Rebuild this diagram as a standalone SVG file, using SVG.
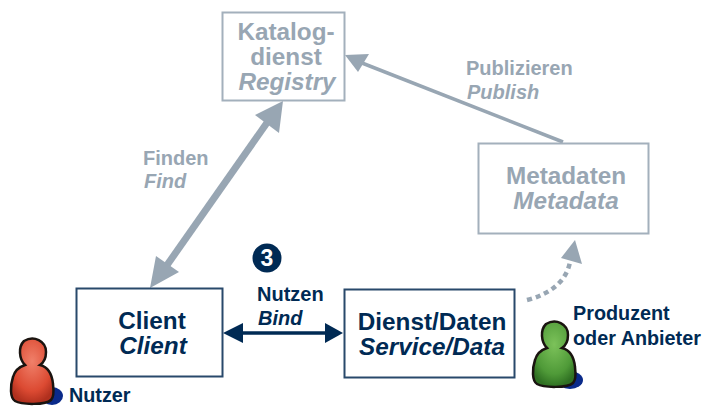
<svg xmlns="http://www.w3.org/2000/svg" width="709" height="406" viewBox="0 0 709 406">
<style>
text{font-family:"Liberation Sans",Arial,sans-serif;font-weight:700}
.i{font-style:italic}
.g{fill:#98a6b3}.d{fill:#002a54}
.gb{fill:#fff;stroke:#a3b0bc;stroke-width:2}
.db{fill:#fff;stroke:#29496b;stroke-width:2}
.t{font-size:24.3px;text-anchor:middle}
.s{font-size:20px}
.p{font-size:19.800px}
</style>
<defs>
<radialGradient id="red" cx="50%" cy="35%" r="65%"><stop offset="0" stop-color="#f0806a"/><stop offset="0.7" stop-color="#dc4a32"/><stop offset="1" stop-color="#b0301e"/></radialGradient>
<radialGradient id="green" cx="50%" cy="35%" r="65%"><stop offset="0" stop-color="#7cc25a"/><stop offset="0.7" stop-color="#4f9a38"/><stop offset="1" stop-color="#2f7022"/></radialGradient>
<symbol id="person" viewBox="0 0 54 68" overflow="visible">
<path d="M14 3C24-3 36 3 36 14C36 20 33 25 30 27C38 29 42 36 43 46C44 54 43 60 41 62C36 67 12 67 5 63C0 60 0 48 3 39C5 32 9 29 15 27C9 21 8 9 14 3Z" stroke="#1a1410" stroke-width="2.5"/>
</symbol>
</defs>
<g id="connectors">
<path d="M165 268L271 117" fill="none" stroke="#98a6b3" stroke-width="7"/>
<path d="M150 288L156 256L179 272Z" class="g"/>
<path d="M283 101L279 133L255 115Z" class="g"/>
<path d="M563 142L362 63" fill="none" stroke="#98a6b3" stroke-width="3.5"/>
<path d="M345 55L369 54L358 72Z" class="g"/>
<path d="M240 333H327" fill="none" stroke="#002a54" stroke-width="3.5"/>
<path d="M223 333L243 323V343Z" class="d"/>
<path d="M343 333L325 323V343Z" class="d"/>
<path d="M527 300C550 294 566 282 570 262" fill="none" stroke="#98a6b3" stroke-width="4.5" stroke-dasharray="5 4"/>
<path d="M575 240L582 264L561 258Z" class="g"/>
</g>
<g id="registry">
<rect x="222.500" y="12.500" width="122" height="88" class="gb"/>
<text class="t g" x="286" y="40">Katalog-</text>
<text class="t g" x="286" y="65">dienst</text>
<text class="t g i" x="287" y="90">Registry</text>
</g>
<g id="metadata">
<rect x="478.500" y="143.500" width="170" height="90" class="gb"/>
<text class="t g" x="566" y="184">Metadaten</text>
<text class="t g i" x="566" y="209">Metadata</text>
</g>
<g id="client">
<rect x="76.500" y="288.500" width="146" height="88" class="db"/>
<text class="t d" x="152" y="329">Client</text>
<text class="t d i" x="153" y="354">Client</text>
</g>
<g id="service">
<rect x="344.500" y="289.500" width="170" height="88" class="db"/>
<text class="t d" x="432" y="330">Dienst/Daten</text>
<text class="t d i" x="432" y="355">Service/Data</text>
</g>
<g id="step3">
<circle cx="267" cy="258" r="14.500" class="d"/>
<text x="267" y="266" font-size="23" text-anchor="middle" fill="#fff">3</text>
</g>
<g id="labels">
<text class="s g" x="143" y="165">Finden</text>
<text class="s g i" x="144" y="188">Find</text>
<text class="s g" x="466" y="75">Publizieren</text>
<text class="s g i" x="467" y="99">Publish</text>
<text class="s d" x="257" y="301">Nutzen</text>
<text class="s d i" x="258" y="325">Bind</text>
</g>
<g id="user">
<ellipse cx="52" cy="396" rx="11" ry="9" fill="#0a2a8a"/>
<use href="#person" x="10" y="338" width="54" height="68" fill="url(#red)"/>
<text class="p d" x="69" y="402">Nutzer</text>
</g>
<g id="producer">
<ellipse cx="570" cy="380" rx="13" ry="9" fill="#0a2a8a"/>
<use href="#person" x="532" y="321" width="54" height="68" fill="url(#green)"/>
<text class="p d" x="573" y="320">Produzent</text>
<text class="p d" x="573" y="345">oder Anbieter</text>
</g>
</svg>
